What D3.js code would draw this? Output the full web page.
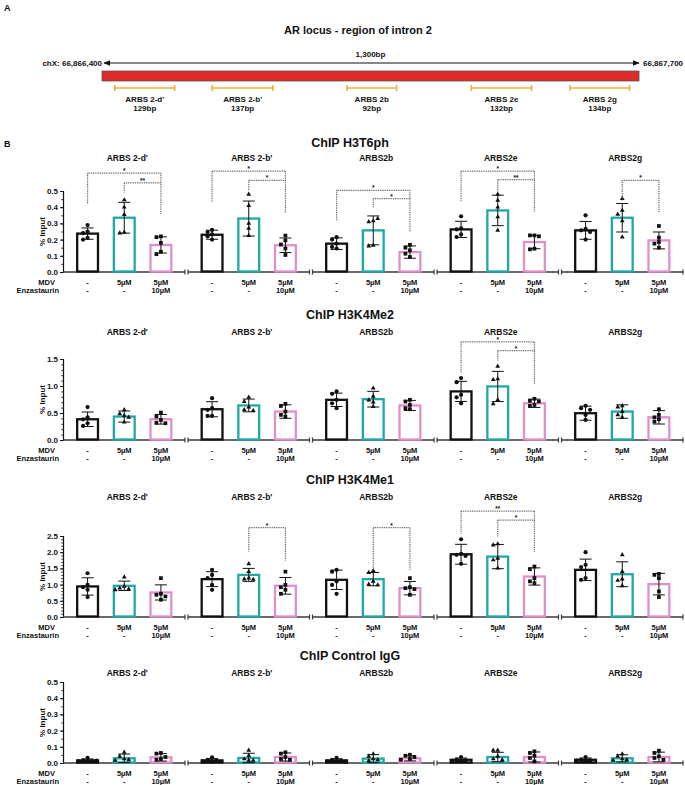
<!DOCTYPE html>
<html><head><meta charset="utf-8">
<script src="https://cdn.jsdelivr.net/npm/d3@7"></script>
<style>
body{margin:0;background:#fff;}
svg text{font-family:"Liberation Sans",Arial,sans-serif;font-weight:bold;fill:#111;}
</style></head>
<body>
<svg id="fig" width="685" height="785"></svg>
<script>
// ---------------- DATA ----------------
// Panel A: locus and amplicons
const locusStart = 66866400, locusEnd = 66867700;
const locusLabel = "1,300bp";
const ampliconNames = ["ARBS 2-d'", "ARBS 2-b'", "ARBS 2b", "ARBS 2e", "ARBS 2g"];
const ampliconSizes = ["129bp", "137bp", "92bp", "132bp", "134bp"];
const ampliconStarts = [66866431, 66866667, 66866993, 66867294, 66867533];
const ampliconEnds   = [66866576, 66866814, 66867113, 66867440, 66867677];

// Panel B
const sites = ["ARBS 2-d'", "ARBS 2-b'", "ARBS2b", "ARBS2e", "ARBS2g"];
const treatments = ["Vehicle", "MDV", "MDV+Enza"];
const mdvLabels = ["-", "5µM", "5µM"];
const enzaLabels = ["-", "-", "10µM"];
const assays = ["ChIP H3T6ph", "ChIP H3K4Me2", "ChIP H3K4Me1", "ChIP Control IgG"];
const yMaxes = [0.5, 1.5, 2.5, 0.5];
const yTickSteps = [0.1, 0.5, 0.5, 0.1];
const yMinorSteps = [0.05, 0.1, 0.1, 0.05];

// means [site][treatment]
const meansH3T6ph = [[0.237,0.335,0.167],[0.23,0.33,0.165],[0.175,0.257,0.123],[0.263,0.38,0.185],[0.257,0.335,0.195]];
const sdH3T6ph    = [[0.035,0.095,0.05],[0.028,0.108,0.045],[0.036,0.089,0.038],[0.05,0.094,0.041],[0.055,0.088,0.052]];
const pointsH3T6ph = [
  [[0.29,0.25,0.24,0.21,0.20],[0.445,0.40,0.355,0.245,0.24],[0.22,0.215,0.18,0.125,0.11]],
  [[0.26,0.247,0.232,0.22,0.20],[0.48,0.41,0.30,0.27,0.225],[0.225,0.195,0.17,0.145,0.105]],
  [[0.215,0.20,0.175,0.155,0.145],[0.315,0.31,0.165,0.16,0.33],[0.168,0.15,0.134,0.113,0.093]],
  [[0.344,0.27,0.263,0.232,0.216],[0.48,0.442,0.40,0.34,0.257],[0.226,0.226,0.22,0.144,0.14]],
  [[0.35,0.267,0.257,0.247,0.20],[0.453,0.38,0.356,0.315,0.216],[0.284,0.212,0.185,0.175,0.15]]
];
const meansH3K4Me2 = [[0.384,0.434,0.384],[0.57,0.64,0.527],[0.744,0.756,0.64],[0.9,0.992,0.68],[0.496,0.527,0.42]];
const sdH3K4Me2    = [[0.134,0.103,0.089],[0.14,0.118,0.125],[0.124,0.145,0.093],[0.186,0.279,0.077],[0.13,0.125,0.124]];
const pointsH3K4Me2 = [
  [[0.61,0.42,0.384,0.31,0.26],[0.558,0.484,0.453,0.42,0.33],[0.508,0.434,0.372,0.32,0.31]],
  [[0.775,0.59,0.558,0.446,0.446],[0.79,0.713,0.61,0.558,0.546],[0.67,0.63,0.527,0.465,0.434]],
  [[0.9,0.856,0.744,0.68,0.59],[0.96,0.81,0.74,0.70,0.62],[0.744,0.713,0.65,0.59,0.57]],
  [[1.147,1.07,0.837,0.79,0.68],[1.364,1.13,1.116,0.744,0.67],[0.763,0.725,0.713,0.65,0.632]],
  [[0.632,0.59,0.558,0.465,0.372],[0.632,0.61,0.527,0.465,0.42],[0.57,0.465,0.42,0.384,0.34]]
];
const meansH3K4Me1 = [[0.943,0.963,0.758],[1.168,1.3,0.963],[1.148,1.168,0.89],[1.936,1.865,1.25],[1.455,1.32,1.014]];
const sdH3K4Me1    = [[0.267,0.144,0.234],[0.23,0.2,0.257],[0.298,0.205,0.207],[0.307,0.374,0.266],[0.331,0.383,0.332]];
const pointsH3K4Me1 = [
  [[1.35,0.99,0.92,0.84,0.615],[1.23,0.943,0.89,0.86,0.84],[1.2,0.717,0.686,0.635,0.533]],
  [[1.455,1.3,1.2,0.99,0.84],[1.64,1.4,1.2,1.17,1.16],[1.4,0.99,0.92,0.84,0.717]],
  [[1.455,1.4,1.1,0.99,0.717],[1.43,1.37,1.1,1.01,0.99],[1.2,0.92,0.89,0.86,0.686]],
  [[2.4,1.95,1.92,1.885,1.64],[2.254,2.22,1.81,1.76,1.506],[1.557,1.475,1.2,1.1,1.045]],
  [[2.0,1.61,1.54,1.2,1.148],[1.92,1.4,1.17,1.127,0.963],[1.33,1.3,1.2,0.79,0.615]]
];
const meansIgG = [[0.016,0.029,0.035],[0.016,0.031,0.037],[0.016,0.027,0.029],[0.02,0.037,0.037],[0.02,0.029,0.037]];
const sdIgG    = [[0.009,0.026,0.023],[0.011,0.029,0.025],[0.01,0.025,0.016],[0.011,0.029,0.031],[0.011,0.022,0.03]];
const pointsIgG = [
  [[0.031,0.016,0.01,0.01,0.014],[0.066,0.041,0.025,0.02,0.016],[0.062,0.058,0.037,0.025,0.02]],
  [[0.035,0.02,0.014,0.008,0.01],[0.078,0.045,0.025,0.016,0.016],[0.066,0.058,0.037,0.025,0.02]],
  [[0.031,0.02,0.014,0.01,0.008],[0.056,0.041,0.025,0.02,0.014],[0.051,0.045,0.037,0.025,0.02]],
  [[0.037,0.02,0.016,0.01,0.01],[0.078,0.078,0.041,0.025,0.02],[0.072,0.062,0.045,0.031,0.01]],
  [[0.037,0.02,0.016,0.014,0.01],[0.056,0.041,0.025,0.02,0.016],[0.076,0.062,0.041,0.031,0.02]]
];
// significance brackets: site, from, to, top, left leg end, right leg end (data units)
const bracketsH3T6ph = [
  {site:0,a:0,b:2,top:0.61,left:0.42,right:0.354,label:"*"},
  {site:0,a:1,b:2,top:0.55,left:0.49,right:null,label:"**"},
  {site:1,a:0,b:2,top:0.623,left:0.43,right:0.364,label:"*"},
  {site:1,a:1,b:2,top:0.566,left:0.50,right:null,label:"*"},
  {site:2,a:0,b:2,top:0.504,left:0.32,right:0.247,label:"*"},
  {site:2,a:1,b:2,top:0.453,left:0.397,right:null,label:"*"},
  {site:3,a:0,b:2,top:0.623,left:0.432,right:0.37,label:"*"},
  {site:3,a:1,b:2,top:0.57,left:0.494,right:null,label:"**"},
  {site:4,a:1,b:2,top:0.566,left:0.442,right:0.364,label:"*"}
];
const bracketsH3K4Me2 = [
  {site:3,a:0,b:2,top:1.816,left:1.24,right:1.035,label:"*"},
  {site:3,a:1,b:2,top:1.655,left:1.47,right:null,label:"*"}
];
const bracketsH3K4Me1 = [
  {site:1,a:1,b:2,top:2.756,left:2.02,right:1.74,label:"*"},
  {site:2,a:1,b:2,top:2.756,left:1.455,right:1.455,label:"*"},
  {site:3,a:0,b:2,top:3.27,left:2.58,right:1.99,label:"**"},
  {site:3,a:1,b:2,top:2.99,left:2.48,right:null,label:"*"}
];
const bracketsIgG = [];

const rowsData = [
  {means:meansH3T6ph, sd:sdH3T6ph, points:pointsH3T6ph, brackets:bracketsH3T6ph},
  {means:meansH3K4Me2, sd:sdH3K4Me2, points:pointsH3K4Me2, brackets:bracketsH3K4Me2},
  {means:meansH3K4Me1, sd:sdH3K4Me1, points:pointsH3K4Me1, brackets:bracketsH3K4Me1},
  {means:meansIgG, sd:sdIgG, points:pointsIgG, brackets:bracketsIgG}
];

// ---------------- LAYOUT / STYLE ----------------
const rowLayout = [
  {title:147, sub:161, top:191, bottom:272},
  {title:319, sub:335, top:359, bottom:440},
  {title:484, sub:500, top:536, bottom:617},
  {title:660, sub:676, top:682, bottom:763}
];
const colors = {"Vehicle":"#111111","MDV":"#1fa8a6","MDV+Enza":"#e08fcb"};
const shapes = {"Vehicle":d3.symbolCircle,"MDV":d3.symbolTriangle,"MDV+Enza":d3.symbolSquare};
const symSize = {"Vehicle":14,"MDV":10,"MDV+Enza":14};

const svg = d3.select("#fig");

// ---------------- PANEL A ----------------
svg.append("text").attr("x",4).attr("y",11).attr("font-size",9).text("A");
svg.append("text").attr("x",358).attr("y",34).attr("text-anchor","middle").attr("font-size",11).text("AR locus - region of intron 2");

const gx = d3.scaleLinear().domain([locusStart, locusEnd]).range([102, 639]);
const fmt = d3.format(",");
svg.append("defs").html(
  '<marker id="ah" viewBox="0 0 10 10" refX="9" refY="5" markerWidth="6" markerHeight="6" orient="auto-start-reverse"><path d="M0,1 L10,5 L0,9 z" fill="#111"/></marker>');
svg.append("line").attr("x1",gx(locusStart)+2).attr("x2",gx(locusEnd)).attr("y1",63).attr("y2",63)
  .attr("stroke","#111").attr("stroke-width",1.2)
  .attr("marker-start","url(#ah)").attr("marker-end","url(#ah)");
svg.append("text").attr("x",gx(locusStart)).attr("y",66).attr("text-anchor","end").attr("font-size",8)
  .text("chX:  " + fmt(locusStart));
svg.append("text").attr("x",gx(locusEnd)+4).attr("y",66).attr("font-size",8).text(fmt(locusEnd));
svg.append("text").attr("x",(gx(locusStart)+gx(locusEnd))/2 + 0).attr("y",57).attr("text-anchor","middle").attr("font-size",8).text(locusLabel);
svg.append("rect").attr("x",gx(locusStart)).attr("y",71).attr("width",gx(locusEnd)-gx(locusStart)).attr("height",10)
  .attr("fill","#dd2a2a").attr("stroke","#555").attr("stroke-width",0.8);
const amp = svg.append("g");
ampliconNames.forEach((n,i)=>{
  const x1 = gx(ampliconStarts[i]), x2 = gx(ampliconEnds[i]);
  const g = amp.append("g").attr("stroke","#f2ae3c").attr("stroke-width",1.6);
  g.append("line").attr("x1",x1).attr("x2",x2).attr("y1",88).attr("y2",88);
  g.append("line").attr("x1",x1).attr("x2",x1).attr("y1",85).attr("y2",91);
  g.append("line").attr("x1",x2).attr("x2",x2).attr("y1",85).attr("y2",91);
  amp.append("text").attr("x",(x1+x2)/2).attr("y",102).attr("text-anchor","middle").attr("font-size",8).text(n);
  amp.append("text").attr("x",(x1+x2)/2).attr("y",111).attr("text-anchor","middle").attr("font-size",8).text(ampliconSizes[i]);
});

// ---------------- PANEL B ----------------
svg.append("text").attr("x",4).attr("y",147).attr("font-size",9).text("B");

const siteScale = d3.scaleBand().domain(sites).range([62, 684.5]).padding(0);
const step = siteScale.bandwidth();
const trScale = d3.scaleBand().domain(treatments).range([step/2-55, step/2+55]).paddingInner(0.37).paddingOuter(0.185);
const yAxisX = 63;

rowsData.forEach((rd, r)=>{
  const L = rowLayout[r];
  const y = d3.scaleLinear().domain([0, yMaxes[r]]).range([L.bottom, L.top]);
  const g = svg.append("g");
  g.append("text").attr("x",350).attr("y",L.title).attr("text-anchor","middle").attr("font-size",12.5).text(assays[r]);

  // y axis
  const majors = d3.range(0, yMaxes[r] + 1e-9, yTickSteps[r]);
  const minors = d3.range(0, yMaxes[r] + 1e-9, yMinorSteps[r]);
  const fmtY = d3.format(".1f");
  const ax = d3.axisLeft(y).tickValues(majors).tickFormat(fmtY).tickSize(3).tickPadding(2);
  const ag = g.append("g").attr("transform",`translate(${yAxisX},0)`).call(ax);
  ag.select(".domain").attr("stroke","#111").attr("stroke-width",1.2);
  ag.selectAll(".tick line").attr("stroke","#111").attr("stroke-width",1);
  ag.selectAll(".tick text").attr("font-size",8).attr("font-family",null).attr("fill","#111");
  const am = d3.axisLeft(y).tickValues(minors).tickFormat("").tickSize(1.8).tickSizeOuter(0);
  const amg = g.append("g").attr("transform",`translate(${yAxisX},0)`).call(am);
  amg.select(".domain").remove();
  amg.selectAll(".tick line").attr("stroke","#111").attr("stroke-width",0.8);
  g.append("text").attr("transform",`translate(45,${(L.top+L.bottom)/2}) rotate(-90)`)
    .attr("text-anchor","middle").attr("font-size",8).text("% Input");

  // row labels
  g.append("text").attr("x",55).attr("y",L.bottom+12.5).attr("text-anchor","end").attr("font-size",7.5).text("MDV");
  g.append("text").attr("x",59).attr("y",L.bottom+21).attr("text-anchor","end").attr("font-size",7.5).text("Enzastaurin");

  sites.forEach((s, si)=>{
    const x0 = siteScale(s);
    const sg = g.append("g").attr("transform",`translate(${x0},0)`);
    sg.append("text").attr("x",step/2+3).attr("y",L.sub).attr("text-anchor","middle").attr("font-size",8.5).text(s);

    // x axis segment with break marks
    const xs = si===0 ? yAxisX - x0 : 1.5;
    const xe = step - 1.5;
    const axc = "#3a3a3a";
    sg.append("line").attr("x1",xs).attr("x2",xe).attr("y1",L.bottom).attr("y2",L.bottom).attr("stroke",axc).attr("stroke-width",1.5);
    sg.append("line").attr("x1",xe).attr("x2",xe).attr("y1",L.bottom-2.5).attr("y2",L.bottom+2.5).attr("stroke",axc).attr("stroke-width",1.2);
    if (si>0) sg.append("line").attr("x1",xs).attr("x2",xs).attr("y1",L.bottom-2.5).attr("y2",L.bottom+2.5).attr("stroke",axc).attr("stroke-width",1.2);

    treatments.forEach((t, ti)=>{
      const bx = trScale(t), bw = trScale.bandwidth(), cx = bx + bw/2;
      const m = rd.means[si][ti], sd = rd.sd[si][ti];
      const sw = 2.3;
      sg.append("rect").attr("x",bx+sw/2).attr("y",y(m)).attr("width",bw-sw).attr("height",Math.max(0,L.bottom - y(m) - 0.5))
        .attr("fill","#fff").attr("stroke",colors[t]).attr("stroke-width",sw);
      // points (simple dodge)
      const placed = [];
      rd.points[si][ti].forEach(v=>{
        const py = y(v);
        let off = 0;
        for (const o of [0,-4.5,4.5,-9,9]) {
          if (placed.every(p=>Math.hypot(p[0]-o, p[1]-py) > 4.2)) { off = o; break; }
        }
        placed.push([off, py]);
        sg.append("path").attr("d", d3.symbol().type(shapes[t]).size(symSize[t])())
          .attr("transform",`translate(${cx+off},${py})`).attr("fill","#111");
      });
      // error bar
      const eg = sg.append("g").attr("stroke","#111").attr("stroke-width",1);
      eg.append("line").attr("x1",cx).attr("x2",cx).attr("y1",y(m+sd)).attr("y2",y(Math.max(0,m-sd)));
      eg.append("line").attr("x1",cx-6).attr("x2",cx+6).attr("y1",y(m+sd)).attr("y2",y(m+sd));
      eg.append("line").attr("x1",cx-6).attr("x2",cx+6).attr("y1",y(Math.max(0,m-sd))).attr("y2",y(Math.max(0,m-sd)));
      // treatment labels
      sg.append("text").attr("x",cx).attr("y",L.bottom+12.5).attr("text-anchor","middle").attr("font-size",7.5).text(mdvLabels[ti]);
      sg.append("text").attr("x",cx).attr("y",L.bottom+21).attr("text-anchor","middle").attr("font-size",7.5).text(enzaLabels[ti]);
    });
  });

  // significance brackets
  rd.brackets.forEach(b=>{
    const x0 = siteScale(sites[b.site]);
    const xa = x0 + trScale(treatments[b.a]) + trScale.bandwidth()/2;
    const xb = x0 + trScale(treatments[b.b]) + trScale.bandwidth()/2;
    const bg = g.append("g").attr("stroke","#666").attr("stroke-width",1.2).attr("stroke-dasharray","1,0.8").attr("fill","none");
    bg.append("line").attr("x1",xa).attr("x2",xb).attr("y1",y(b.top)).attr("y2",y(b.top));
    bg.append("line").attr("x1",xa).attr("x2",xa).attr("y1",y(b.top)).attr("y2",y(b.left));
    if (b.right!==null) bg.append("line").attr("x1",xb).attr("x2",xb).attr("y1",y(b.top)).attr("y2",y(b.right));
    g.append("text").attr("x",(xa+xb)/2).attr("y",y(b.top)).attr("text-anchor","middle").attr("font-size",6.5).text(b.label);
  });
});
</script>
</body></html>
